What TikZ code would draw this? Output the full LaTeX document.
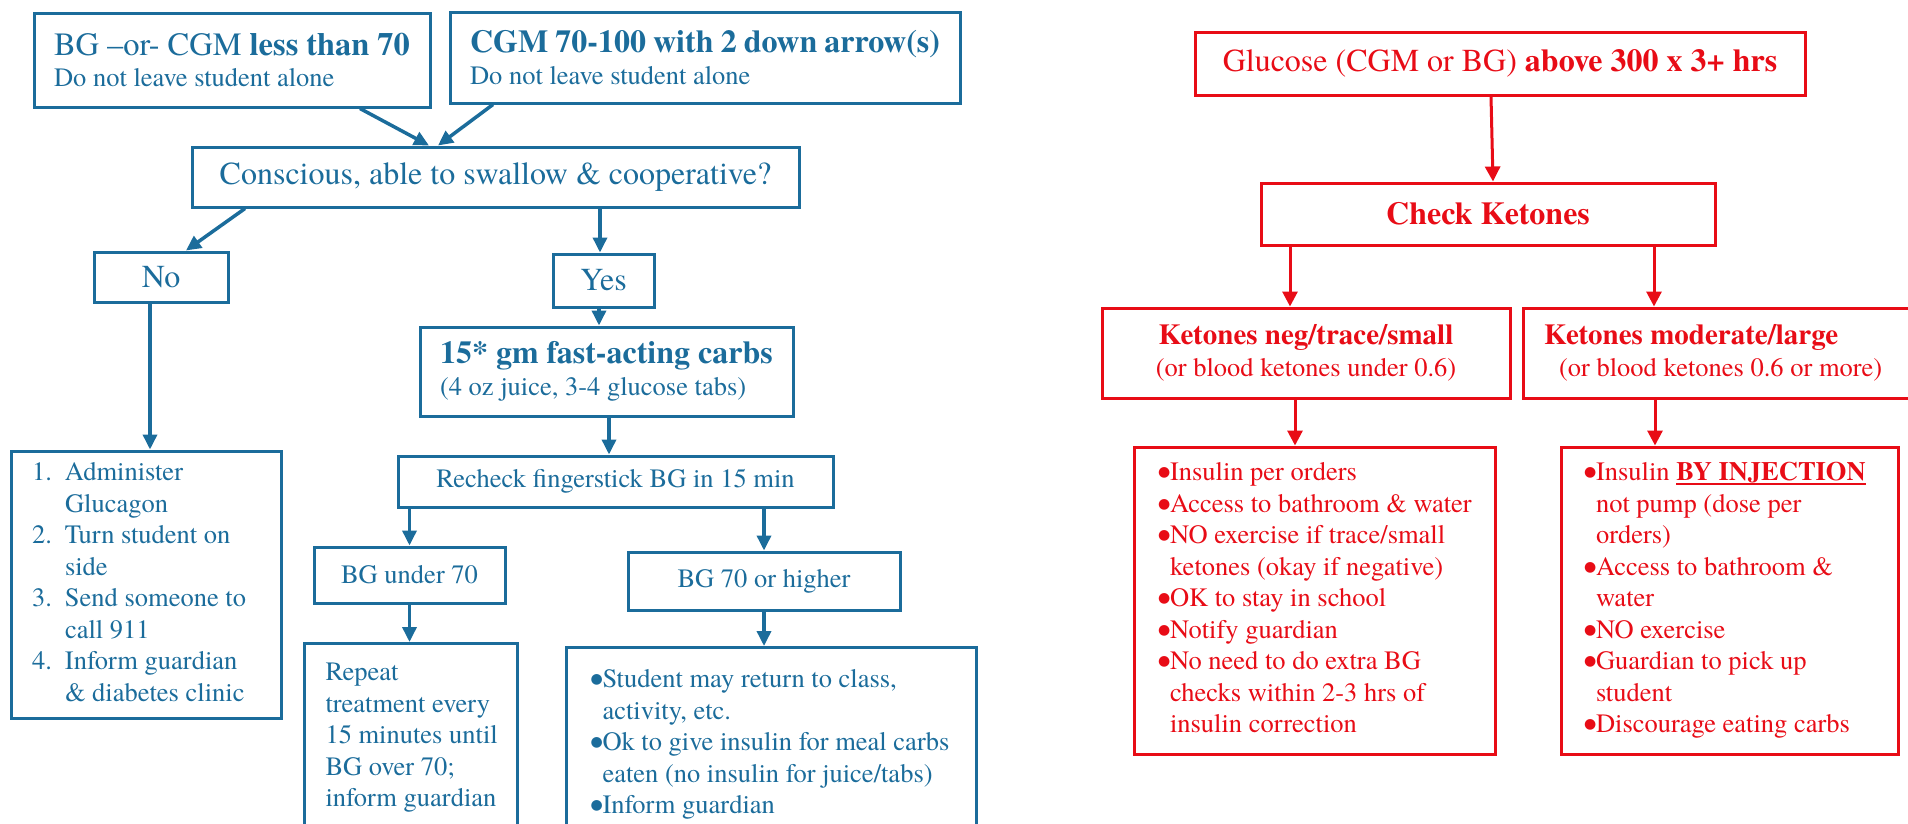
\documentclass[tikz,border=0pt]{standalone}
\usepackage{fontspec}
\setmainfont{texgyretermes}[Extension=.otf, UprightFont=*-regular, BoldFont=*-bold, ItalicFont=*-italic, BoldItalicFont=*-bolditalic]
\newfontfamily\dejavu{DejaVu Sans}
\usetikzlibrary{arrows.meta}
\definecolor{bl}{RGB}{27,108,155}
\definecolor{rd}{RGB}{232,12,22}
\newcommand\bodyf{\fontsize{26.5}{31.5}\selectfont}
\newcommand\headf{\fontsize{32}{36}\selectfont}
\newcommand\ketf{\fontsize{29}{31}\selectfont}
\newcommand\lines[1]{\begin{tabular}{@{}l@{}}#1\end{tabular}}
\newcommand\bul{\makebox[11pt][l]{\hspace*{-1pt}\raisebox{4pt}{\dejavu\fontsize{14}{14}\selectfont ●}}}
\newcommand\ind{\hspace*{11pt}}
\newcommand\thul[1]{\setbox0\hbox{#1}\rlap{\rule[-4.5pt]{\wd0}{2.2pt}}\box0}
\begin{document}
\begin{tikzpicture}[x=1pt,y=-1pt,
  bbox/.style={draw=bl, line width=3pt, text=bl, inner sep=0pt, rectangle},
  rbox/.style={draw=rd, line width=3pt, text=rd, inner sep=0pt, rectangle},
  barr/.style={draw=bl, line width=3.5pt, -{Triangle[length=15pt,width=14pt]}},
  rarr/.style={draw=rd, line width=3pt, -{Triangle[length=15pt,width=15pt]}}]
\useasboundingbox (0,0) rectangle (1908,823);
\clip (0,0) rectangle (1908,823);
% ---------------- blue (left) ----------------
\node[bbox, minimum width=396pt, minimum height=94pt] (a) at (232,60)
  {\parbox{356pt}{\fontsize{32.5}{36}\selectfont BG \textendash or- CGM \textbf{less than 70}\\\bodyf Do not leave student alone}};
\node[bbox, minimum width=510pt, minimum height=91pt] (b) at (705,57.5)
  {\parbox{470pt}{\headf\textbf{CGM 70-100 with 2 down arrow(s)}\\\bodyf Do not leave student alone}};
\node[bbox, minimum width=607pt, minimum height=60pt] (c) at (495.5,177)
  {\headf Conscious, able to swallow \& cooperative?};
\node[bbox, minimum width=134pt, minimum height=50pt] (no) at (161,277) {\headf No};
\node[bbox, minimum width=101pt, minimum height=53pt] (yes) at (603.5,280.5) {\headf Yes};
\node[bbox, minimum width=373pt, minimum height=89pt] (carbs) at (606.5,371.5)
  {\parbox{333pt}{\headf\textbf{15* gm fast-acting carbs}\\\bodyf (4 oz juice, 3-4 glucose tabs)}};
\node[bbox, minimum width=435pt, minimum height=51pt] (rc) at (615.5,481.5)
  {\bodyf Recheck fingerstick BG in 15 min};
\node[bbox, minimum width=270pt, minimum height=267pt] (glu) at (146,584.5)
  {\parbox{228pt}{\bodyf\lines{\makebox[33pt][l]{1.}Administer\\
   \hspace*{33pt}Glucagon\\
   \makebox[33pt][l]{2.}Turn student on\\
   \hspace*{33pt}side\\
   \makebox[33pt][l]{3.}Send someone to\\
   \hspace*{33pt}call 911\\
   \makebox[33pt][l]{4.}Inform guardian\\
   \hspace*{33pt}\& diabetes clinic}}};
\node[bbox, minimum width=191pt, minimum height=56pt] (bgu) at (409.5,575) {\bodyf BG under 70};
\node[bbox, minimum width=272pt, minimum height=58pt] (bgh) at (764,581) {\bodyf BG 70 or higher};
\node[bbox, anchor=north west, inner xsep=21pt, inner ysep=15pt] (rep) at (303,642)
  {\parbox[t][300pt][t]{171pt}{\bodyf\lines{Repeat\\treatment every\\15 minutes until\\BG over 70;\\inform guardian}}};
\node[bbox, anchor=north west, inner xsep=25pt, inner ysep=18pt] (bul) at (565,646)
  {\parbox[t][300pt][t]{360pt}{\bodyf\lines{\bul Student may return to class,\\
   \ind activity, etc.\\
   \bul Ok to give insulin for meal carbs\\
   \ind eaten (no insulin for juice/tabs)\\
   \bul Inform guardian}}};
\draw[barr] ([xshift=128pt]a.south) -- ([xshift=-66.5pt]c.north);
\draw[barr] ([xshift=-212pt]b.south) -- ([xshift=-57.5pt]c.north);
\draw[barr] ([xshift=-250.5pt]c.south) -- ([xshift=25pt]no.north);
\draw[barr] ([xshift=-3.5pt]yes.north |- c.south) -- ([xshift=-3.5pt]yes.north);
\draw[barr] ([xshift=-11pt]no.south) -- ([xshift=-11pt]no.south |- glu.north);
\draw[barr] ([xshift=-4.5pt]yes.south) -- ([xshift=-4.5pt]yes.south |- carbs.north);
\draw[barr] ([xshift=2.5pt]carbs.south) -- ([xshift=2.5pt]carbs.south |- rc.north);
\draw[barr] (bgu.north |- rc.south) -- (bgu.north);
\draw[barr] (bgh.north |- rc.south) -- (bgh.north);
\draw[barr] (bgu.south) -- (bgu.south |- rep.north);
\draw[barr] (bgh.south) -- (bgh.south |- bul.north);
% ---------------- red (right) ----------------
\node[rbox, minimum width=610pt, minimum height=63pt] (gl) at (1500,63.5)
  {\headf Glucose (CGM or BG) \textbf{above 300 x 3+ hrs}};
\node[rbox, minimum width=454pt, minimum height=62pt] (ck) at (1488,214)
  {\headf\textbf{Check Ketones}};
\node[rbox, minimum width=408pt, minimum height=90pt] (neg) at (1306,353)
  {\parbox{390pt}{\centering\ketf\textbf{Ketones neg/trace/small}\\\bodyf (or blood ketones under 0.6)}};
\node[rbox, minimum width=392pt, minimum height=90pt] (mod) at (1719,353)
  {\parbox{350pt}{\ketf\textbf{Ketones moderate/large}\\\bodyf\mbox{\hspace*{15pt}(or blood ketones 0.6 or more)}}};
\node[rbox, minimum width=361pt, minimum height=307pt] (lb) at (1314.5,600.5)
  {\parbox{311pt}{\bodyf\lines{\bul Insulin per orders\\
   \bul Access to bathroom \& water\\
   \bul NO exercise if trace/small\\
   \ind ketones (okay if negative)\\
   \bul OK to stay in school\\
   \bul Notify guardian\\
   \bul No need to do extra BG\\
   \ind checks within 2-3 hrs of\\
   \ind insulin correction}}};
\node[rbox, minimum width=337pt, minimum height=307pt] (rb) at (1729.5,600.5)
  {\parbox{289pt}{\bodyf\lines{\bul Insulin \thul{\textbf{BY INJECTION}}\\
   \ind not pump (dose per\\
   \ind orders)\\
   \bul Access to bathroom \&\\
   \ind water\\
   \bul NO exercise\\
   \bul Guardian to pick up\\
   \ind student\\
   \bul Discourage eating carbs}}};
\draw[rarr] ([xshift=-9pt]gl.south) -- ([xshift=5pt]ck.north);
\draw[rarr] ([xshift=-198pt]ck.south) -- ([xshift=-198pt]ck.south |- neg.north);
\draw[rarr] ([xshift=166pt]ck.south) -- ([xshift=166pt]ck.south |- mod.north);
\draw[rarr] ([xshift=-11pt]neg.south) -- ([xshift=-11pt]neg.south |- lb.north);
\draw[rarr] ([xshift=-64pt]mod.south) -- ([xshift=-64pt]mod.south |- rb.north);
\end{tikzpicture}
\end{document}
